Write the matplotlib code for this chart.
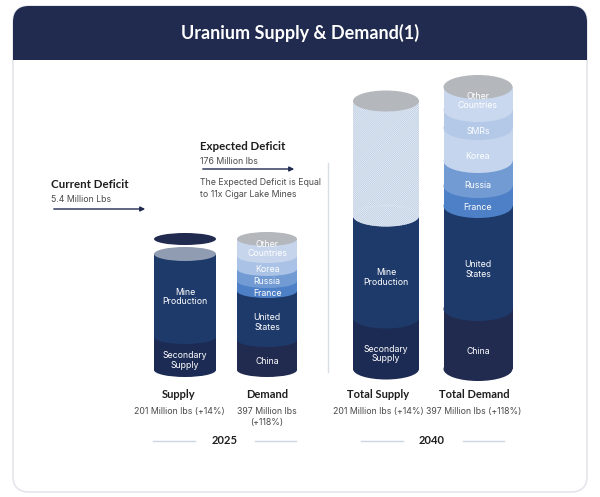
import matplotlib
matplotlib.use("Agg")
import matplotlib.pyplot as plt
from matplotlib.patches import Ellipse, FancyBboxPatch, Rectangle

plt.rcParams["hatch.linewidth"] = 0.8

# ---- data (segment heights, bottom to top) ----
supply_2025_labels = ["Secondary\nSupply", "Mine\nProduction"]
supply_2025_values = [33, 83]

demand_2025_labels = ["China", "United\nStates", "France", "Russia", "Korea", "Other\nCountries"]
demand_2025_values = [30, 49, 10, 12, 13, 17]

supply_2040_labels = ["Secondary\nSupply", "Mine\nProduction", ""]
supply_2040_values = [51, 102, 115]

demand_2040_labels = ["China", "United\nStates", "France", "Russia", "Korea", "SMRs", "Other\nCountries"]
demand_2040_values = [60, 103, 20, 25, 33, 18, 23]

bar_titles = ["Supply", "Demand", "Total Supply", "Total Demand"]
bar_subtitles = ["201 Million lbs (+14%)", "397 Million lbs\n(+118%)",
                 "201 Million lbs (+14%)", "397 Million lbs (+118%)"]
years = ["2025", "2040"]

NAVY = "#212a4f"
MID = "#1e3a6b"
GREY_CAP = "#b4b7bc"
TXT = "#4a4a4a"

FONT = "Lato"
BODY = "Inter"

fig = plt.figure(figsize=(6, 4.97), dpi=100)
ax = fig.add_axes([0, 0, 1, 1])
ax.set_xlim(0, 600)
ax.set_ylim(497, 0)
ax.axis("off")

# card + header
ax.add_patch(FancyBboxPatch((13, 6), 574, 486, boxstyle="round,pad=0,rounding_size=16",
                            fc="white", ec="#e4e6ea", lw=1.2, zorder=0))
ax.add_patch(FancyBboxPatch((13, 6), 574, 54, boxstyle="round,pad=0,rounding_size=16",
                            fc=NAVY, ec="none", zorder=1))
ax.add_patch(Rectangle((13, 40), 574, 20, fc=NAVY, ec="none", zorder=1))
ax.text(300, 33, "Uranium Supply & Demand(1)", color="white", ha="center", va="center",
        fontsize=13, fontweight="bold", family=FONT, zorder=2)


def cylinder(cx, w, eh, base, values, labels, colors, cap_color, hatch_idx=None):
    ry = eh / 2
    bottom = base
    z = 3
    n = len(values)
    for i, (v, lab, col) in enumerate(zip(values, labels, colors)):
        top = bottom - v
        if i == hatch_idx:
            kw = dict(fc="white", ec="#c3d2e6", lw=0, hatch="////////////////")
        else:
            kw = dict(fc=col, ec="none", lw=0)
        ax.bar(cx, -v, bottom=bottom, width=w, zorder=z, **kw)
        ax.add_patch(Ellipse((cx, bottom), w, eh, zorder=z, **kw))
        if lab:
            # top label sits higher, partly over the cap
            ty = (top + bottom) / 2 + (ry * 0.2 if i == n - 1 else ry)
            ax.text(cx, ty, lab, color="white", ha="center", va="center",
                    fontsize=6.3, family=BODY, linespacing=1.1, zorder=20)
        bottom = top
        z += 1
    ax.add_patch(Ellipse((cx, bottom), w, eh, fc=cap_color, ec="none", zorder=z))
    return bottom


cylinder(185, 62, 14, 370, supply_2025_values, supply_2025_labels,
         ["#1c2b53", MID], "#8f9cb2")
ax.add_patch(Ellipse((185, 239), 62, 12, fc=NAVY, ec="none", zorder=3))

cylinder(267, 60, 14, 370, demand_2025_values, demand_2025_labels,
         [NAVY, MID, "#4d80c6", "#729bd4", "#a9c2e5", "#c6d5ec"], GREY_CAP)

cylinder(386, 66, 21, 369, supply_2040_values, supply_2040_labels,
         ["#1c2b53", MID, "white"], GREY_CAP, hatch_idx=2)

cylinder(478, 69, 24, 369, demand_2040_values, demand_2040_labels,
         [NAVY, MID, "#4d80c6", "#729bd4", "#c4d5ed", "#b4c8e7", "#c9d8ee"], GREY_CAP)

# divider
ax.plot([328, 328], [163, 372], color="#d9dde4", lw=1, zorder=2)

# deficit annotations
ax.text(51, 184, "Current Deficit", fontsize=8.3, fontweight="bold", family=FONT,
        color="#1e1e1e", va="center")
ax.text(51, 200, "5.4 Million Lbs", fontsize=6.3, family=BODY, color=TXT, va="center")
ax.annotate("", xy=(148, 209), xytext=(51, 209),
            arrowprops=dict(arrowstyle="-|>", color=NAVY, lw=1, mutation_scale=7))

ax.text(200, 146, "Expected Deficit", fontsize=8.3, fontweight="bold", family=FONT,
        color="#1e1e1e", va="center")
ax.text(200, 161, "176 Million lbs", fontsize=6.3, family=BODY, color=TXT, va="center")
ax.annotate("", xy=(297, 169), xytext=(200, 169),
            arrowprops=dict(arrowstyle="-|>", color=NAVY, lw=1, mutation_scale=7))
ax.text(200, 188.5, "The Expected Deficit is Equal\nto 11x Cigar Lake Mines", fontsize=6.3,
        family=BODY, color=TXT, va="center", linespacing=1.35)

# bottom labels
label_x = [179, 267, 378, 474]
for x, t, s in zip(label_x, bar_titles, bar_subtitles):
    ax.text(x, 394, t, ha="center", va="center", fontsize=8, fontweight="bold",
            family=FONT, color="#1e1e1e")
    ax.text(x, 407, s, ha="center", va="top", fontsize=6.3, family=BODY, color=TXT,
            linespacing=1.25)

year_x = [225, 432]
year_lines = [[(153, 195), (255, 296)], [(361, 403), (463, 504)]]
for x, y, segs in zip(year_x, years, year_lines):
    ax.text(x, 441, y, ha="center", va="center", fontsize=8, fontweight="bold",
            family=FONT, color="#1e1e1e")
    for a, b in segs:
        ax.plot([a, b], [441, 441], color="#cdd6e3", lw=1)

fig.savefig("out.png", dpi=100)
